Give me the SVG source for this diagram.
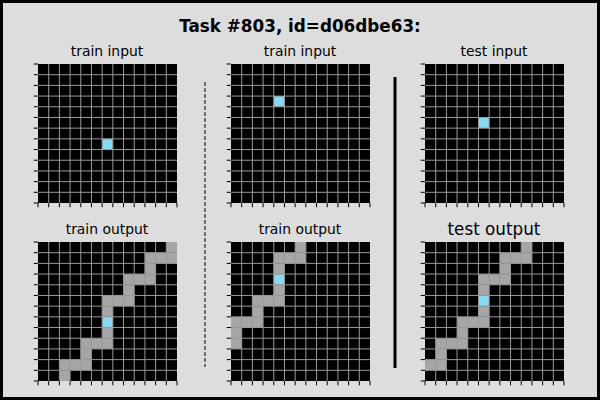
<svg xmlns="http://www.w3.org/2000/svg" xmlns:xlink="http://www.w3.org/1999/xlink" width="600" height="400" viewBox="0 0 600 400">
<style>
.bg{fill:#000}
.g{fill:#a6a6a6}
.c{fill:#87d8f1}
.gl{fill:none;stroke:#999;stroke-width:1}
.tk{fill:none;stroke:#000;stroke-width:1}
.t{font-family:"DejaVu Sans",sans-serif;font-size:13.9px;fill:#000;text-anchor:middle}
.tt{font-family:"DejaVu Sans",sans-serif;font-size:16.8px;font-weight:bold;fill:#000;text-anchor:middle}
</style>
<defs>
<g id="grid">
<path class="gl" vector-effect="non-scaling-stroke" d="M1 0V13M2 0V13M3 0V13M4 0V13M5 0V13M6 0V13M7 0V13M8 0V13M9 0V13M10 0V13M11 0V13M12 0V13M0 1H13M0 2H13M0 3H13M0 4H13M0 5H13M0 6H13M0 7H13M0 8H13M0 9H13M0 10H13M0 11H13M0 12H13"/>
<path class="tk" vector-effect="non-scaling-stroke" d="M-0.4 0H0M-0.4 1H0M-0.4 2H0M-0.4 3H0M-0.4 4H0M-0.4 5H0M-0.4 6H0M-0.4 7H0M-0.4 8H0M-0.4 9H0M-0.4 10H0M-0.4 11H0M-0.4 12H0M-0.4 13H0M0 13V13.4M1 13V13.4M2 13V13.4M3 13V13.4M4 13V13.4M5 13V13.4M6 13V13.4M7 13V13.4M8 13V13.4M9 13V13.4M10 13V13.4M11 13V13.4M12 13V13.4M13 13V13.4"/>
</g>
</defs>
<rect x="0" y="0" width="600" height="400" fill="#dddddd"/>
<rect x="1.5" y="1.5" width="597" height="397" fill="none" stroke="#000" stroke-width="3"/>
<text class="tt" x="300" y="32">Task #803, id=d06dbe63:</text>

<g id="train1-input">
<text class="t" x="107" y="56">train input</text>
<g transform="translate(38,64) scale(10.6923)">
<rect class="bg" width="13" height="13"/>
<rect class="c" x="6" y="7" width="1" height="1"/>
<use xlink:href="#grid"/>
</g>
</g>

<g id="train2-input">
<text class="t" x="300" y="56">train input</text>
<g transform="translate(231,64) scale(10.6923)">
<rect class="bg" width="13" height="13"/>
<rect class="c" x="4" y="3" width="1" height="1"/>
<use xlink:href="#grid"/>
</g>
</g>

<g id="test-input">
<text class="t" x="494" y="56">test input</text>
<g transform="translate(425,64) scale(10.6923)">
<rect class="bg" width="13" height="13"/>
<rect class="c" x="5" y="5" width="1" height="1"/>
<use xlink:href="#grid"/>
</g>
</g>

<g id="train1-output">
<text class="t" x="107" y="234">train output</text>
<g transform="translate(38,242) scale(10.6923)">
<rect class="bg" width="13" height="13"/>
<rect class="g" x="12" y="0" width="1" height="1"/>
<rect class="g" x="10" y="1" width="3" height="1"/>
<rect class="g" x="10" y="2" width="1" height="1"/>
<rect class="g" x="8" y="3" width="3" height="1"/>
<rect class="g" x="8" y="4" width="1" height="1"/>
<rect class="g" x="6" y="5" width="3" height="1"/>
<rect class="g" x="6" y="6" width="1" height="1"/>
<rect class="c" x="6" y="7" width="1" height="1"/>
<rect class="g" x="6" y="8" width="1" height="1"/>
<rect class="g" x="4" y="9" width="3" height="1"/>
<rect class="g" x="4" y="10" width="1" height="1"/>
<rect class="g" x="2" y="11" width="3" height="1"/>
<rect class="g" x="2" y="12" width="1" height="1"/>
<use xlink:href="#grid"/>
</g>
</g>

<g id="train2-output">
<text class="t" x="300" y="234">train output</text>
<g transform="translate(231,242) scale(10.6923)">
<rect class="bg" width="13" height="13"/>
<rect class="g" x="6" y="0" width="1" height="1"/>
<rect class="g" x="4" y="1" width="3" height="1"/>
<rect class="g" x="4" y="2" width="1" height="1"/>
<rect class="c" x="4" y="3" width="1" height="1"/>
<rect class="g" x="4" y="4" width="1" height="1"/>
<rect class="g" x="2" y="5" width="3" height="1"/>
<rect class="g" x="2" y="6" width="1" height="1"/>
<rect class="g" x="0" y="7" width="3" height="1"/>
<rect class="g" x="0" y="8" width="1" height="2"/>
<use xlink:href="#grid"/>
</g>
</g>

<g id="test-output">
<text class="t" x="494" y="235" style="font-size:16.8px">test output</text>
<g transform="translate(425,242) scale(10.6923)">
<rect class="bg" width="13" height="13"/>
<rect class="g" x="9" y="0" width="1" height="1"/>
<rect class="g" x="7" y="1" width="3" height="1"/>
<rect class="g" x="7" y="2" width="1" height="1"/>
<rect class="g" x="5" y="3" width="3" height="1"/>
<rect class="g" x="5" y="4" width="1" height="1"/>
<rect class="c" x="5" y="5" width="1" height="1"/>
<rect class="g" x="5" y="6" width="1" height="1"/>
<rect class="g" x="3" y="7" width="3" height="1"/>
<rect class="g" x="3" y="8" width="1" height="1"/>
<rect class="g" x="1" y="9" width="3" height="1"/>
<rect class="g" x="1" y="10" width="1" height="1"/>
<rect class="g" x="0" y="11" width="2" height="1"/>
<use xlink:href="#grid"/>
</g>
</g>

<g id="connectors">
<line x1="205" y1="82" x2="205" y2="367" stroke="#000" stroke-width="1" stroke-dasharray="4,2"/>
<line x1="395" y1="77" x2="395" y2="368" stroke="#000" stroke-width="3"/>
</g>
</svg>
